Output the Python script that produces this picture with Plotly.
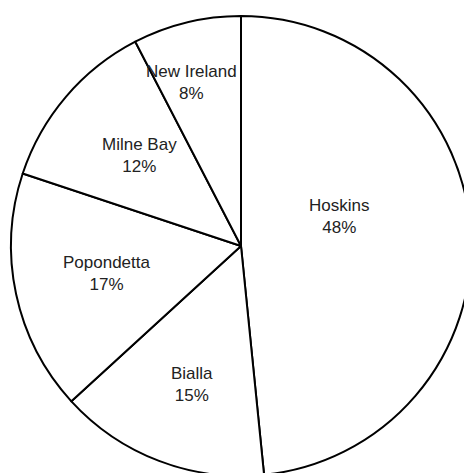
import math
import plotly.graph_objects as go

labels = ["Hoskins", "Bialla", "Popondetta", "Milne Bay", "New Ireland"]
values = [48.4, 14.8, 16.9, 12.3, 7.6]

# label placement style: fraction of radius and angular nudge (degrees) per slice
label_radius = [0.443, 0.64, 0.596, 0.59, 0.743]
label_shift = [-14.0, -1.5, 0.6, 1.2, -3.0]

W, H = 472, 476
cx, cy, R = 241, 246, 230

fig = go.Figure(go.Pie(
    labels=labels,
    values=values,
    sort=False,
    direction="clockwise",
    rotation=0,
    marker=dict(colors=["white"] * len(labels), line=dict(color="black", width=2)),
    textinfo="none",
    hoverinfo="label+percent",
    showlegend=False,
    domain=dict(x=[(cx - R) / W, (cx + R) / W], y=[1 - (cy + R) / H, 1 - (cy - R) / H]),
))

total = sum(values)
cum = 0.0
for lab, v, rf, sh in zip(labels, values, label_radius, label_shift):
    mid = (cum + v / 2) / total * 360.0 + sh
    cum += v
    th = math.radians(mid)
    px = cx + rf * R * math.sin(th)
    py = cy - rf * R * math.cos(th)
    fig.add_annotation(
        x=px / W, y=1 - py / H, xref="paper", yref="paper",
        text=f"{lab}<br>{round(v / total * 100)}%",
        showarrow=False, xanchor="center", yanchor="middle",
        font=dict(family="Arial, Liberation Sans, sans-serif", size=17, color="#222222"),
    )

fig.update_layout(
    width=W, height=H, autosize=False,
    margin=dict(l=0, r=0, t=0, b=0),
    paper_bgcolor="white", plot_bgcolor="white",
)

fig.write_html("out.html", post_script="document.body.style.overflow='hidden';document.documentElement.style.overflow='hidden';document.body.style.margin='0';")
